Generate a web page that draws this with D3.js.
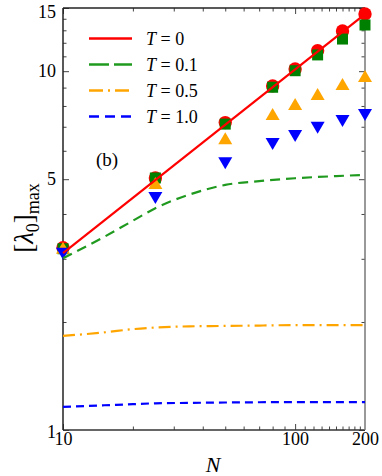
<!DOCTYPE html>
<meta charset="utf-8">
<style>
body { margin: 0; background: #fff; }
svg text { font-family: "Liberation Serif", "Times New Roman", serif; }
.tick line { stroke: #444; }
</style>
<svg width="382" height="476"></svg>
<script src="https://cdnjs.cloudflare.com/ajax/libs/d3/7.8.5/d3.min.js"></script>
<script>

// symbols (markers)
var sizesN = [10, 25, 50, 80, 100, 125, 160, 200];
var ptsT0  = [3.22, 5.04, 7.19, 9.10, 10.14, 11.41, 12.94, 14.43];
var ptsT01 = [3.20, 5.04, 7.12, 9.02, 10.03, 11.10, 12.29, 13.45];
var ptsT05 = [3.22, 4.88, 6.50, 7.60, 8.10, 8.64, 9.21, 9.70];
var ptsT10 = [3.10, 4.43, 5.54, 6.27, 6.60, 6.96, 7.26, 7.55];

// curves
var lineT0N = [10, 200];
var lineT0  = [3.11, 14.43];
var curveN   = [10, 15, 20, 25, 35, 50, 70, 100, 150, 200];
var curveT01 = [3.01, 3.45, 3.83, 4.15, 4.53, 4.82, 4.94, 5.03, 5.10, 5.14];
var curveT05 = [1.83, 1.87, 1.91, 1.93, 1.945, 1.95, 1.955, 1.96, 1.96, 1.96];
var curveT10 = [1.16, 1.172, 1.18, 1.187, 1.19, 1.193, 1.195, 1.196, 1.196, 1.196];

var legendLabels = ["0", "0.1", "0.5", "1.0"];

var yMajor = [1, 5, 10, 15];
var yMinor = [2, 3, 4, 6, 7, 8, 9, 11, 12, 13, 14];
var xMajor = [10, 100];
var xLabels = [10, 100, 200];
var xMinor = [20, 30, 40, 50, 60, 70, 80, 90, 110, 120, 130, 140, 150, 160, 170, 180, 190];

var svg = d3.select("svg");
var pLeft = 63, pRight = 365, pTop = 8, pBottom = 430;
var serif = "'Liberation Serif', 'Times New Roman', serif";

var x = d3.scaleLog().domain([10, 200]).range([pLeft, pRight]);
var y = d3.scaleLog().domain([1, 15]).range([pBottom, pTop]);

// axes, ticks pointing inward
function fmt(d) { return d3.format("d")(d); }
function noDomain(g) { g.select(".domain").remove(); }

var yAxisG = svg.append("g").attr("transform", "translate(" + pLeft + ",0)")
    .call(d3.axisLeft(y).tickValues(yMajor).tickFormat(fmt).tickSizeInner(-6).tickSizeOuter(0).tickPadding(7))
    .call(noDomain);
// the end labels sit a little inside the frame
yAxisG.selectAll(".tick text").attr("dy", function(d) { return d === 15 ? "0.55em" : d === 1 ? "0.42em" : "0.32em"; });

svg.append("g").attr("transform", "translate(" + pLeft + ",0)")
    .call(d3.axisLeft(y).tickValues(yMinor).tickFormat("").tickSizeInner(-3.5).tickSizeOuter(0))
    .call(noDomain);
svg.append("g").attr("transform", "translate(" + pRight + ",0)")
    .call(d3.axisRight(y).tickValues(yMajor).tickFormat("").tickSizeInner(-6).tickSizeOuter(0))
    .call(noDomain);
svg.append("g").attr("transform", "translate(" + pRight + ",0)")
    .call(d3.axisRight(y).tickValues(yMinor).tickFormat("").tickSizeInner(-3.5).tickSizeOuter(0))
    .call(noDomain);

svg.append("g").attr("transform", "translate(0," + pBottom + ")")
    .call(d3.axisBottom(x).tickValues(xMajor).tickFormat("").tickSizeInner(-6).tickSizeOuter(0))
    .call(noDomain);
svg.append("g").attr("transform", "translate(0," + pBottom + ")")
    .call(d3.axisBottom(x).tickValues(xMinor).tickFormat("").tickSizeInner(-3.5).tickSizeOuter(0))
    .call(noDomain);
svg.append("g").attr("transform", "translate(0," + pBottom + ")")
    .call(d3.axisBottom(x).tickValues(xLabels).tickFormat(fmt).tickSize(0).tickPadding(2))
    .call(noDomain);
svg.append("g").attr("transform", "translate(0," + pTop + ")")
    .call(d3.axisTop(x).tickValues(xMajor).tickFormat("").tickSizeInner(-6).tickSizeOuter(0))
    .call(noDomain);
svg.append("g").attr("transform", "translate(0," + pTop + ")")
    .call(d3.axisTop(x).tickValues(xMinor).tickFormat("").tickSizeInner(-3.5).tickSizeOuter(0))
    .call(noDomain);

svg.selectAll(".tick text")
    .style("font-family", serif)
    .style("font-size", "18px")
    .attr("fill", "#000");

// frame
svg.append("line").attr("x1", pLeft).attr("x2", pRight).attr("y1", pTop).attr("y2", pTop)
    .attr("stroke", "#222").attr("stroke-width", 1.5);
svg.append("line").attr("x1", pLeft).attr("x2", pRight).attr("y1", pBottom).attr("y2", pBottom)
    .attr("stroke", "#333").attr("stroke-width", 1.5);
svg.append("line").attr("x1", pLeft).attr("x2", pLeft).attr("y1", pTop).attr("y2", pBottom)
    .attr("stroke", "#222").attr("stroke-width", 1.5);
svg.append("line").attr("x1", pRight).attr("x2", pRight).attr("y1", pTop).attr("y2", pBottom)
    .attr("stroke", "#777").attr("stroke-width", 1.5);

// markers
function triUp(w, h) { return "M0," + (-h / 2) + "L" + (w / 2) + "," + (h / 2) + "L" + (-w / 2) + "," + (h / 2) + "Z"; }
function triDown(w, h) { return "M0," + (h / 2) + "L" + (w / 2) + "," + (-h / 2) + "L" + (-w / 2) + "," + (-h / 2) + "Z"; }

var markers = [
  { vals: ptsT0,  color: "#ff0000", path: d3.symbol().type(d3.symbolCircle).size(140)() },
  { vals: ptsT01, color: "#008000", path: d3.symbol().type(d3.symbolSquare).size(121)() },
  { vals: ptsT05, color: "#ffa500", path: triUp(14, 12) },
  { vals: ptsT10, color: "#0000ff", path: triDown(14, 12) }
];

markers.forEach(function(m) {
  svg.append("g").selectAll("path")
    .data(sizesN.map(function(n, i) { return [n, m.vals[i]]; }))
    .enter().append("path")
    .attr("d", m.path)
    .attr("fill", m.color)
    .attr("transform", function(d) { return "translate(" + x(d[0]) + "," + y(d[1]) + ")"; });
});

// lines
var line = d3.line()
    .x(function(d) { return x(d[0]); })
    .y(function(d) { return y(d[1]); })
    .curve(d3.curveMonotoneX);

var curves = [
  { n: lineT0N, vals: lineT0, color: "#ff0000", dash: null, legendDash: null },
  { n: curveN, vals: curveT01, color: "#1f9a1f", dash: "10,6", legendDash: "20,5" },
  { n: curveN, vals: curveT05, color: "#ffa500", dash: "12,5,2,5", legendDash: "14,5,2,5" },
  { n: curveN, vals: curveT10, color: "#0000ff", dash: "8,5", legendDash: "10,6" }
];

curves.forEach(function(c) {
  svg.append("path")
    .datum(c.n.map(function(n, i) { return [n, c.vals[i]]; }))
    .attr("d", line)
    .attr("fill", "none")
    .attr("stroke", c.color)
    .attr("stroke-width", 2.2)
    .attr("stroke-dasharray", c.dash);
});

// legend
var legend = svg.append("g");
curves.forEach(function(c, i) {
  var ly = 38.5 + i * 26;
  legend.append("line")
    .attr("x1", 89).attr("x2", 132).attr("y1", ly).attr("y2", ly)
    .attr("stroke", c.color).attr("stroke-width", 2.5)
    .attr("stroke-dasharray", c.legendDash);
  var t = legend.append("text").attr("x", 146).attr("y", ly + 6)
      .style("font-family", serif).style("font-size", "18px");
  t.append("tspan").style("font-style", "italic").text("T");
  t.append("tspan").text(" = " + legendLabels[i]);
});

svg.append("text").attr("x", 96).attr("y", 166)
    .style("font-family", serif).style("font-size", "19px").text("(b)");

// axis labels
svg.append("text").attr("x", 213).attr("y", 472)
    .attr("text-anchor", "middle")
    .style("font-family", serif).style("font-size", "22px").style("font-style", "italic").text("N");

var yl = svg.append("text")
    .attr("transform", "translate(33,218) rotate(-90)")
    .attr("text-anchor", "middle")
    .style("font-family", serif)
    .style("font-size", "27px");
yl.append("tspan").text("[");
yl.append("tspan").style("font-style", "italic").text("λ");
yl.append("tspan").attr("dy", 6).style("font-size", "18px").text("0");
yl.append("tspan").attr("dy", -6).text("]");
yl.append("tspan").attr("dy", 6).style("font-size", "18px").text("max");

</script>
